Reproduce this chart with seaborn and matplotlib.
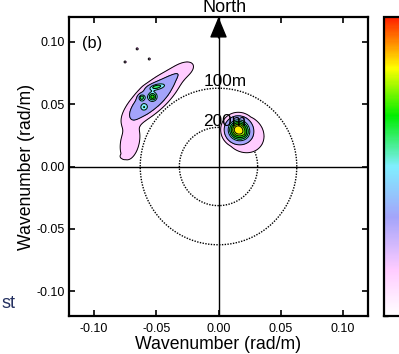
import numpy as np
import matplotlib
matplotlib.use("Agg")
import matplotlib.pyplot as plt
import seaborn as sns
from matplotlib.colors import LinearSegmentedColormap, Normalize
from matplotlib.cm import ScalarMappable

sns.set_theme(style="white", rc={
    "axes.edgecolor": "black", "text.color": "black", "axes.labelcolor": "black",
    "xtick.color": "black", "ytick.color": "black",
})
plt.rcParams["font.family"] = ["Liberation Sans", "DejaVu Sans"]
plt.rcParams["axes.unicode_minus"] = False

# Swell system (north-west): centre kx, ky [rad/m], spread along/across,
# orientation [deg], level, profile exponent (2 = flat top, 1 = gaussian)
swell_kx = [-0.0535, -0.071, -0.029, -0.0504, -0.062, -0.053, -0.0597]
swell_ky = [0.0550, 0.020, 0.077, 0.0641, 0.0556, 0.056, 0.0476]
swell_sa = [0.023, 0.011, 0.008, 0.0055, 0.002, 0.0024, 0.0023]
swell_sb = [0.0086, 0.0055, 0.0045, 0.0018, 0.002, 0.0024, 0.0023]
swell_ang = [42, 78, 30, 10, 0, 0, 0]
swell_amp = [0.60, 0.30, 0.25, 0.35, 0.40, 0.42, 0.25]
swell_pow = [2, 1, 1, 1, 1, 1, 1]

# Wind sea (north-east, close to the 200 m ring): peaked core plus skewed shoulder
sea_kx = [0.0153, 0.0206]
sea_ky = [0.0298, 0.0262]
sea_sa = [0.0145, 0.0218]
sea_sb = [0.0145, 0.0190]
sea_ang = [0, -34]
sea_amp = [1.10, 0.50]

# Isolated low-energy specks
speck_kx = [-0.0653, -0.075, -0.0556, -0.0774, -0.0760]
speck_ky = [0.0944, 0.0839, 0.0863, 0.0081, 0.0075]
speck_amp = [0.2, 0.2, 0.2, 0.2, 0.2]

# Wavelength rings [m]
ring_wavelength = [100, 200]

levels = [0.12, 0.40, 0.72, 0.84, 0.96, 1.08, 1.20, 1.45, 1.70]
band_shade = [0.15, 0.33, 0.50, 0.60, 0.68, 0.76, 0.84, 0.95]
cbar_ticks = [0.0, 0.3, 0.6, 0.9, 1.2, 1.5]
axis_ticks = [-0.10, -0.05, 0.00, 0.05, 0.10]

kgrid = np.linspace(-0.12, 0.12, 601)
KX, KY = np.meshgrid(kgrid, kgrid)


def radius2(x0, y0, a, b, t):
    th = np.deg2rad(t)
    u = (KX - x0) * np.cos(th) + (KY - y0) * np.sin(th)
    v = -(KX - x0) * np.sin(th) + (KY - y0) * np.cos(th)
    return (u / a) ** 2 + (v / b) ** 2


def bumps(kx, ky, sa, sb, ang, amp, power):
    z = np.zeros_like(KX)
    for x0, y0, a, b, t, h, p in zip(kx, ky, sa, sb, ang, amp, power):
        z += h * np.exp(-0.5 * radius2(x0, y0, a, b, t) ** p)
    return z


def cones(kx, ky, sa, sb, ang, amp):
    z = np.zeros_like(KX)
    for x0, y0, a, b, t, h in zip(kx, ky, sa, sb, ang, amp):
        z += h * np.clip(1 - np.sqrt(radius2(x0, y0, a, b, t)), 0, None)
    return z


Z = bumps(swell_kx, swell_ky, swell_sa, swell_sb, swell_ang, swell_amp, swell_pow)
Z += cones(sea_kx, sea_ky, sea_sa, sea_sb, sea_ang, sea_amp)
n = len(speck_kx)
Z += bumps(speck_kx, speck_ky, [0.0008] * n, [0.0008] * n, [0] * n, speck_amp, [1] * n)

cmap = LinearSegmentedColormap.from_list("spec", [
    (0.00, "#ffffff"), (0.15, "#ffccff"), (0.33, "#a4a4fa"), (0.50, "#80eeff"),
    (0.67, "#00ee00"), (0.83, "#ffff00"), (0.90, "#ffa000"), (1.00, "#ff2000"),
])
norm = Normalize(vmin=0, vmax=1.7)

fig = plt.figure(figsize=(3.99, 3.54), dpi=100)
ax = fig.add_axes([69 / 399, 38 / 354, 299 / 399, 299 / 354])

ax.contourf(KX, KY, Z, levels=levels, colors=[cmap(s) for s in band_shade], zorder=3)
ax.contour(KX, KY, Z, levels=levels, colors="black", linewidths=0.7, zorder=4)

theta = np.linspace(0, 2 * np.pi, 400)
for wl in ring_wavelength:
    k = 2 * np.pi / wl
    sns.lineplot(x=k * np.cos(theta), y=k * np.sin(theta), sort=False, estimator=None,
                 ax=ax, color="black", lw=1.0, linestyle=(0, (1, 1)), zorder=1)
    ax.text(-0.012, k + 0.005, f"{wl}m", ha="left", va="center", fontsize=12.4, zorder=5)

ax.axhline(0, color="black", lw=1.0, zorder=2)
ax.axvline(0, color="black", lw=1.0, zorder=2)

ax.annotate("", xy=(0, 1.0), xycoords=("data", "axes fraction"),
            xytext=(0, 0.93), textcoords=("data", "axes fraction"),
            arrowprops=dict(arrowstyle="-|>,head_length=0.65,head_width=0.27",
                            color="black", lw=1.0, mutation_scale=20, shrinkA=0, shrinkB=0),
            zorder=6, annotation_clip=False)
fig.text(225 / 399, 1 - 12 / 354, "North", ha="center", va="baseline", fontsize=13)

ax.text(-0.1097, 0.0984, "(b)", ha="left", va="center", fontsize=11.8, zorder=5)

ax.set_xlim(-0.12, 0.12)
ax.set_ylim(-0.12, 0.12)
ax.set_xticks(axis_ticks)
ax.set_yticks(axis_ticks)
ax.set_xticklabels([f"{t:.2f}" for t in axis_ticks])
ax.set_yticklabels([f"{t:.2f}" for t in axis_ticks])
ax.tick_params(direction="in", length=4, width=1.2, labelsize=9,
               bottom=True, top=True, left=True, right=True)
ax.tick_params(axis="x", pad=5)
ax.tick_params(axis="y", pad=3)
for s in ax.spines.values():
    s.set_linewidth(1.6)
    s.set_color("black")

ax.set_xlabel("Wavenumber (rad/m)", fontsize=12.7)
ax.set_ylabel("Wavenumber (rad/m)", fontsize=12.7)
ax.xaxis.set_label_coords(0.5, -0.067)
ax.yaxis.set_label_coords(-0.115, 0.5)

cax = fig.add_axes([384 / 399, 38 / 354, 0.07, 299 / 354])
cb = fig.colorbar(ScalarMappable(norm=norm, cmap=cmap), cax=cax)
cb.set_ticks(cbar_ticks)
cax.yaxis.set_ticks_position("left")
cax.tick_params(direction="in", length=3, width=1.0, labelleft=False, labelright=False)
cb.outline.set_linewidth(1.6)
cb.outline.set_edgecolor("black")

fig.text(1 / 399, 1 - 308 / 354, "st", ha="left", va="baseline", fontsize=13, color="#243060")

fig.savefig("out.png", dpi=100)
